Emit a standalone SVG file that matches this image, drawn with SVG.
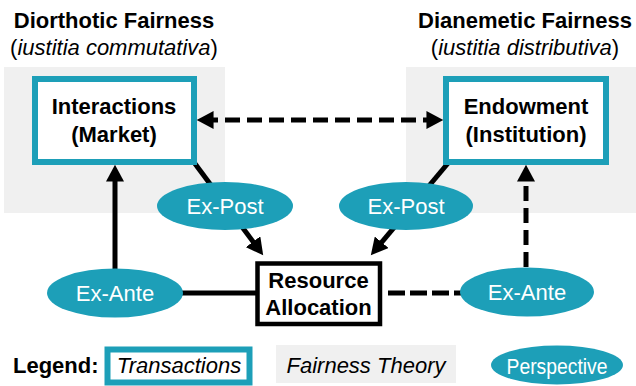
<svg xmlns="http://www.w3.org/2000/svg" width="636" height="386" viewBox="0 0 636 386">
<style>
text{font-family:"Liberation Sans",Arial,sans-serif;font-size:22px;fill:#000}
.b{font-weight:bold}
.i{font-style:italic}
.w{fill:#fff}
.bg{fill:#f0f0f0}
.tbox{fill:#fff;stroke:#1d9fb8;stroke-width:6}
.ell{fill:#1d9fb8}
.c{stroke:#000;stroke-width:5;fill:none}
.d{stroke-dasharray:15 7}
.d2{stroke-dasharray:17 5}
</style>
<defs>
<marker id="ah" markerUnits="userSpaceOnUse" markerWidth="18" markerHeight="18" viewBox="0 0 17 17" refX="10" refY="8.5" orient="auto-start-reverse">
<path d="M0,0 L16,8.5 L0,17 z" fill="#000"/>
</marker>
</defs>
<g id="theory-diorthotic">
<rect class="bg" x="4" y="67" width="221" height="146"/>
<text class="b" x="114" y="28" text-anchor="middle">Diorthotic Fairness</text>
<text x="114" y="55" text-anchor="middle">(<tspan class="i">iustitia commutativa</tspan>)</text>
</g>
<g id="theory-dianemetic">
<rect class="bg" x="406" y="67" width="230" height="146"/>
<text class="b" x="525" y="28" text-anchor="middle">Dianemetic Fairness</text>
<text x="525" y="55" text-anchor="middle">(<tspan class="i">iustitia distributiva</tspan>)</text>
</g>
<g id="connectors">
<line class="c" x1="115" y1="293" x2="115" y2="171" marker-end="url(#ah)"/>
<line class="c" x1="115" y1="293" x2="258" y2="293"/>
<line class="c" x1="193" y1="161" x2="259.4" y2="250.2" marker-end="url(#ah)"/>
<line class="c" x1="449" y1="162" x2="374.9" y2="250.4" marker-end="url(#ah)"/>
<line class="c d" x1="203" y1="120" x2="437" y2="120" marker-start="url(#ah)" marker-end="url(#ah)"/>
<line class="c d" x1="526" y1="267" x2="526" y2="171" marker-end="url(#ah)"/>
<line class="c d2" x1="388" y1="293" x2="462" y2="293"/>
</g>
<g id="interactions">
<rect class="tbox" x="35" y="79" width="159" height="83"/>
<text class="b" x="114" y="114" text-anchor="middle">Interactions</text>
<text class="b" x="114" y="142" text-anchor="middle">(Market)</text>
</g>
<g id="endowment">
<rect class="tbox" x="446" y="79" width="160" height="83"/>
<text class="b" x="526" y="114" text-anchor="middle">Endowment</text>
<text class="b" x="526" y="142" text-anchor="middle">(Institution)</text>
</g>
<g id="resource-allocation">
<rect x="257.5" y="263.5" width="122.5" height="60.5" fill="#fff" stroke="#000" stroke-width="4.5"/>
<text class="b" x="318.5" y="288" text-anchor="middle">Resource</text>
<text class="b" x="318.5" y="315" text-anchor="middle">Allocation</text>
</g>
<g id="ex-post-left">
<ellipse class="ell" cx="225" cy="206" rx="68" ry="24"/>
<text class="w" x="225" y="214" text-anchor="middle">Ex-Post</text>
</g>
<g id="ex-post-right">
<ellipse class="ell" cx="406" cy="206" rx="67" ry="24"/>
<text class="w" x="406" y="214" text-anchor="middle">Ex-Post</text>
</g>
<g id="ex-ante-left">
<ellipse class="ell" cx="115" cy="293" rx="68" ry="24.5"/>
<text class="w" x="115" y="301" text-anchor="middle">Ex-Ante</text>
</g>
<g id="ex-ante-right">
<ellipse class="ell" cx="527" cy="292" rx="67" ry="24.5"/>
<text class="w" x="527" y="300" text-anchor="middle">Ex-Ante</text>
</g>
<g id="legend">
<text class="b" x="13" y="373">Legend:</text>
<rect class="tbox" x="107.5" y="349.5" width="142" height="33" stroke-width="5"/>
<text class="i" x="179" y="373" text-anchor="middle">Transactions</text>
<rect class="bg" x="276" y="345" width="180" height="38"/>
<text class="i" x="366" y="373" text-anchor="middle">Fairness Theory</text>
<ellipse class="ell" cx="557" cy="365" rx="66" ry="19.5"/>
<text class="w" x="557" y="373.5" text-anchor="middle" font-size="24" textLength="101" lengthAdjust="spacingAndGlyphs">Perspective</text>
</g>
</svg>
